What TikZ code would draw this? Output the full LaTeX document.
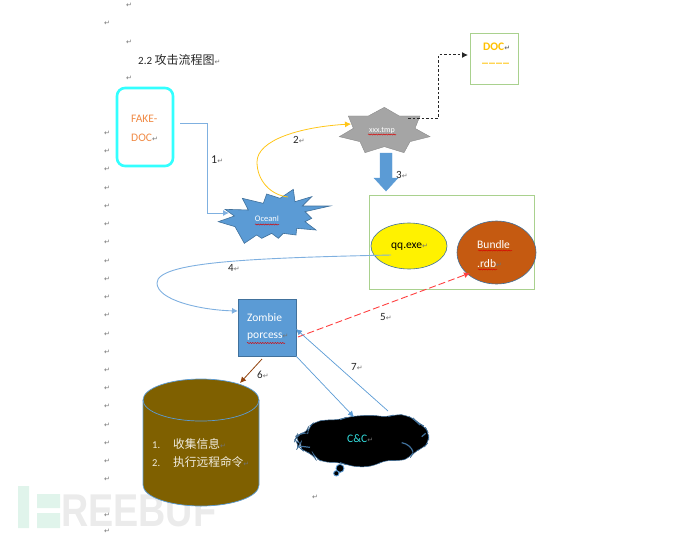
\documentclass[tikz,border=0pt]{standalone}
\usepackage{fontspec}
\setmainfont{Carlito}
\newfontfamily\cjkf{Noto Sans CJK SC}
\newfontfamily\dejaf{DejaVu Sans}
\newfontfamily\wmf{Liberation Sans}
\usetikzlibrary{arrows.meta,decorations.pathmorphing,shapes.geometric}
\definecolor{wblue}{HTML}{5B9BD5}
\definecolor{lblue}{HTML}{7FB0E0}
\definecolor{edgeblue}{HTML}{41719C}
\definecolor{lgreen}{HTML}{A9D18E}
\definecolor{orangeT}{HTML}{F08A45}
\definecolor{goldT}{HTML}{FFC000}
\definecolor{rust}{HTML}{C55A11}
\definecolor{olive}{HTML}{7F6000}
\definecolor{cyanb}{HTML}{33FFFF}
\definecolor{ccT}{HTML}{33E0E0}
\definecolor{tgray}{HTML}{A5A5A5}
\definecolor{arrowred}{HTML}{FF4040}
\definecolor{brownar}{HTML}{843C0C}
\newcommand{\retm}{{\dejaf\fontsize{7}{7}\selectfont\textcolor{black!55}{↵}}}
\newcommand{\txt}[1]{\fontsize{#1}{#1}\selectfont}
\tikzset{
 x=1pt,y=-1pt,
 pmark/.style={inner sep=0pt,font=\dejaf\fontsize{7}{7}\selectfont,text=black!55},
 lab/.style={inner sep=0pt,font=\txt{11},text=black!85},
 shapetext/.style={inner sep=0pt,anchor=west,font=\txt{11.5}},
 conn/.style={draw=lblue,line width=.9pt},
 arrowtip/.style={-{Latex[length=6pt,width=6pt]}},
 wavy/.style={draw=red!85!black,line width=.5pt,decorate,decoration={snake,amplitude=.5pt,segment length=2.5pt}},
}
\begin{document}
\begin{tikzpicture}
\useasboundingbox (0,0) rectangle (690,535);
% watermark
\fill[green!30!teal!12] (18,486) rectangle (29,528) (37,494) rectangle (60,508) (37,513) rectangle (60,528);
\node[anchor=west,inner sep=0pt,text=black!8,font=\wmf\bfseries\fontsize{46}{46}\selectfont,xscale=.82] (wm) at (61,511) {REEBUF};
% margin marks
\foreach \y in {133,151,169,188,206,224,242,261,279,297,315,334,352,370,388,406,425,443,461,479,515,531}
  \node[pmark] at (107,\y) {↵};
\node[pmark] (m1) at (129,5) {↵};
\node[pmark] (m2) at (107,23) {↵};
\node[pmark] (m3) at (129,42) {↵};
\node[pmark] (m4) at (129,78) {↵};
\node[pmark] (m5) at (315,497) {↵};
% title
\node[anchor=west,inner sep=0pt,text=black!85] (title) at (138,60) {\txt{11}2.2 {\cjkf\txt{12}攻击流程图}\retm};
% FAKE-DOC
\node[draw=cyanb,line width=2.6pt,rounded corners=8pt,minimum width=56pt,minimum height=78pt,inner sep=0pt] (fake) at (145,127) {};
\node[shapetext,text=orangeT] (fake1) at (131,119) {FAKE-};
\node[shapetext,text=orangeT] (fake2) at (131,138) {DOC\retm};
% Ocean star
\begin{scope}[shift={(215,180)},scale=1/3]
\filldraw[fill=wblue,draw=edgeblue,line width=.6pt] (30,88)--(58,108)--(10,125)--(60,140)--(88,190)--(125,165)--(140,175)--(170,160)--(190,175)--(205,160)--(243,165)--(245,145)--(303,150)--(270,125)--(290,115)--(270,95)--(345,78)--(262,78)--(290,50)--(240,65)--(235,28)--(195,55)--(155,42)--(145,70)--(82,55)--(100,90)--cycle;
\end{scope}
\node[inner sep=0pt,text=white,font=\txt{8.5}] (ocean) at (267,219) {OceanI};
\draw[wavy] (255,224.5)--(279,224.5);
% gray star
\begin{scope}[shift={(330,20)},scale=1/3]
\filldraw[fill=tgray,draw=black!45,line width=.4pt] (163,262)--(208,288)--(270,288)--(255,325)--(300,350)--(240,365)--(222,398)--(163,380)--(105,398)--(90,365)--(28,350)--(70,325)--(55,288)--(115,288)--cycle;
\end{scope}
\node[inner sep=0pt,text=white,font=\txt{8}] (tmp) at (382,131) {xxx.tmp};
\draw[wavy] (368,134.5)--(396,134.5);
% DOC box
\node[draw=lgreen,line width=.9pt,minimum width=48pt,minimum height=51pt,inner sep=0pt] (doc) at (494,58.5) {};
\node[shapetext,text=goldT,font=\bfseries\txt{11.5}] (doc1) at (483,47) {DOC\retm};
\node[shapetext,text=goldT,font=\bfseries\txt{12}] (doc2) at (482,63) {\_\kern1pt\_\kern1pt\_\kern1pt\_};
% block arrow 3
\filldraw[fill=wblue,draw=wblue] (380,153)--(392,153)--(392,178)--(398,178)--(386,191)--(374,178)--(380,178)--cycle;
% group box
\node[draw=lgreen,line width=.9pt,minimum width=165pt,minimum height=94pt,inner sep=0pt] (group) at (451.5,242) {};
\node[ellipse,fill=yellow,draw=edgeblue,line width=.6pt,minimum width=76pt,minimum height=46pt,inner sep=0pt] (qq) at (409,246) {};
\node[shapetext,text=black] (qqt) at (391,247) {qq.exe\retm};
\node[ellipse,fill=rust,draw=edgeblue,line width=.6pt,minimum width=79pt,minimum height=63pt,inner sep=0pt] (bundle) at (496.5,252.5) {};
\node[shapetext,text=white] (b1) at (477,245) {Bundle};
\node[shapetext,text=white] (b2) at (477,264) {.rdb\retm};
\draw[wavy] (478,250.5)--(512,250.5);
\draw[wavy] (478,269.5)--(497,269.5);
% zombie
\node[fill=wblue,draw=edgeblue,line width=.8pt,minimum width=58pt,minimum height=57pt,inner sep=0pt] (zombie) at (267,327.5) {};
\node[shapetext,text=white] (z1) at (247,318) {Zombie};
\node[shapetext,text=white] (z2) at (247,337) {porcess\retm};
\draw[wavy] (247,343)--(285,343);
% cylinder
\filldraw[fill=olive,draw=wblue,line width=.7pt] (143,400)--(143,485) arc[start angle=180,end angle=0,x radius=58,y radius=21]--(259,400) arc[start angle=0,end angle=-180,x radius=58,y radius=21]--cycle;
\draw[wblue,line width=.7pt] (143,400) arc[start angle=180,end angle=0,x radius=58,y radius=21];
\node[shapetext,text=white!88!olive,font=\txt{10.5}] (l1n) at (152,445) {1.};
\node[shapetext,text=white!88!olive,font=\cjkf\txt{11.7}] (l1) at (173,444) {收集信息\retm};
\node[shapetext,text=white!88!olive,font=\txt{10.5}] (l2n) at (152,463) {2.};
\node[shapetext,text=white!88!olive,font=\cjkf\txt{11.7}] (l2) at (173,462) {执行远程命令\retm};
% cloud
\begin{scope}[shift={(285,405)},scale=1/3]
\filldraw[fill=black,draw=edgeblue,line width=.5pt,rounded corners=7pt]
 (68,84)--(70,66)--(90,50)--(125,44)--(165,45)--(185,36)--(225,32)--(265,30)--(305,37)--(330,28)--(365,30)--(390,45)--(398,54)--(420,64)--(431,85)--(432,110)--(415,130)--(385,140)--(375,160)--(340,168)--(300,165)--(270,182)--(225,187)--(185,180)--(165,172)--(115,172)--(90,158)--(85,148)--(55,138)--(40,125)--(45,116)--(30,105)--(35,92)--(50,85)--cycle;
\filldraw[fill=black,draw=wblue,line width=.9pt] (165,190) circle[radius=12];
\filldraw[fill=black,draw=wblue,line width=.9pt] (154,205) circle[radius=8];
\draw[edgeblue,line width=1.2pt] (40,123)--(75,127);
\draw[edgeblue,line width=1.2pt] (350,113) .. controls (368,116) and (380,128) .. (384,140);
\draw[edgeblue,line width=1.2pt] (410,95)--(422,85);
\end{scope}
\node[inner sep=0pt,text=ccT,font=\txt{11.5},anchor=west] (cc) at (347,439) {C\&C\retm};
% connector ends
\coordinate (p1s) at (180,123);
\coordinate (p1e) at (229,213);
\coordinate (p2s) at (288,197);
\coordinate (p2e) at (351,124);
\coordinate (pds) at (408,118);
\coordinate (pde) at (468,55);
\coordinate (p4s) at (391,255);
\coordinate (p4e) at (238,311);
\coordinate (p5s) at (298,337);
\coordinate (p5e) at (470,273);
\coordinate (p6s) at (262,359);
\coordinate (p6e) at (240,383);
\coordinate (p7s) at (388,411);
\coordinate (p7e) at (296,329);
\coordinate (p8s) at (296,356);
\coordinate (p8e) at (354,417);
% connectors
\draw[conn,arrowtip] (p1s)--(207,123)--(207,213)--(p1e);
\draw[draw=goldT!90!white,line width=.8pt,arrowtip] (p2s) .. controls (270,195) and (257,180) .. (257,162) .. controls (257,140) and (300,127) .. (p2e);
\draw[black!85,line width=1pt,dash pattern=on 2.5pt off 2pt,arrowtip] (pds)--(438,118)--(438,55)--(pde);
\draw[conn,arrowtip] (p4s) .. controls (250,258) and (157,262) .. (157,283) .. controls (157,300) and (200,310) .. (p4e);
\draw[arrowred,line width=.9pt,dash pattern=on 7pt off 3pt,arrowtip] (p5s)--(p5e);
\draw[brownar!80!rust,line width=.8pt,arrowtip] (p6s)--(p6e);
\draw[wblue,line width=.7pt,arrowtip] (p7s)--(p7e);
\draw[wblue,line width=.7pt,arrowtip] (p8s)--(p8e);
% labels
\node[lab,anchor=west,font=\txt{12}] (n1) at (211,160) {1\retm};
\node[lab,anchor=west] (n2) at (293,140) {2\retm};
\node[lab,anchor=west] (n3) at (396,175) {3\retm};
\node[lab,anchor=west] (n4) at (228,268) {4\retm};
\node[lab,anchor=west] (n5) at (380,317) {5\retm};
\node[lab,anchor=west] (n6) at (257,375) {6\retm};
\node[lab,anchor=west] (n7) at (351,367) {7\retm};
\end{tikzpicture}
\end{document}
